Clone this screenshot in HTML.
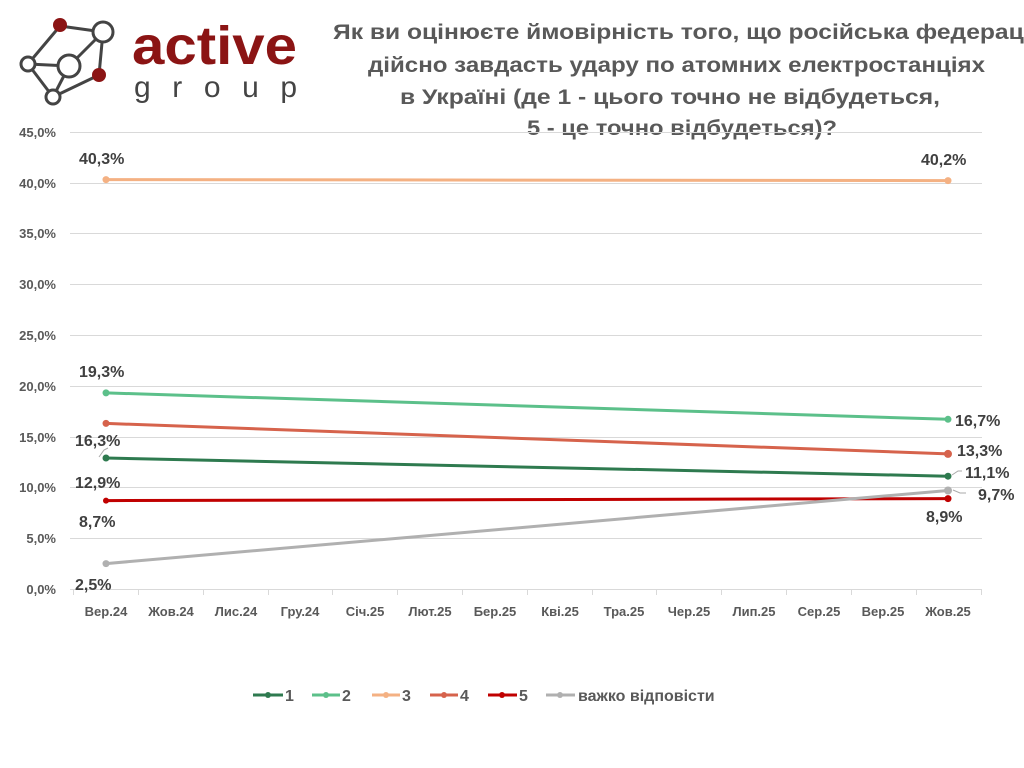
<!DOCTYPE html>
<html><head><meta charset="utf-8"><style>
html,body{margin:0;padding:0;background:#fff;}
svg{display:block;font-family:"Liberation Sans",Arial,sans-serif;}
</style></head><body>
<svg width="1024" height="768" viewBox="0 0 1024 768" xmlns="http://www.w3.org/2000/svg">
<rect width="1024" height="768" fill="#fff"/>
<!-- logo -->
<g stroke="#444" stroke-width="3" fill="#fff">
<line x1="60" y1="26" x2="103" y2="32"/><line x1="60" y1="26" x2="28" y2="64"/>
<line x1="103" y1="32" x2="69" y2="66"/><line x1="103" y1="32" x2="99" y2="75"/>
<line x1="28" y1="64" x2="69" y2="66"/><line x1="28" y1="64" x2="53" y2="97"/>
<line x1="69" y1="66" x2="53" y2="97"/><line x1="99" y1="75" x2="53" y2="97"/>
<circle cx="103" cy="32" r="10"/><circle cx="69" cy="66" r="11"/>
<circle cx="28" cy="64" r="7"/><circle cx="53" cy="97" r="7"/>
</g>
<circle cx="60" cy="25" r="7" fill="#8b1414"/><circle cx="99" cy="75" r="7" fill="#8b1414"/>
<text x="132" y="64" font-size="54" font-weight="bold" fill="#8b1414" textLength="165" lengthAdjust="spacingAndGlyphs">active</text>
<text x="134" y="97" font-size="30" fill="#444" textLength="163" lengthAdjust="spacing">group</text>
<!-- title -->
<g font-size="21" font-weight="bold" fill="#595959">
<text x="333" y="39" textLength="712" lengthAdjust="spacingAndGlyphs">Як ви оцінюєте ймовірність того, що російська федерація</text>
<text x="368" y="72" textLength="617" lengthAdjust="spacingAndGlyphs">дійсно завдасть удару по атомних електростанціях</text>
<text x="400" y="104" textLength="540" lengthAdjust="spacingAndGlyphs">в Україні (де 1 - цього точно не відбудеться,</text>
<text x="527" y="135" textLength="310" lengthAdjust="spacingAndGlyphs">5 - це точно відбудеться)?</text>
</g>
<!-- grid -->
<g stroke="#d9d9d9" stroke-width="1">
<line x1="70" y1="132.5" x2="982" y2="132.5"/><line x1="70" y1="183.5" x2="982" y2="183.5"/>
<line x1="70" y1="233.5" x2="982" y2="233.5"/><line x1="70" y1="284.5" x2="982" y2="284.5"/>
<line x1="70" y1="335.5" x2="982" y2="335.5"/><line x1="70" y1="386.5" x2="982" y2="386.5"/>
<line x1="70" y1="437.5" x2="982" y2="437.5"/><line x1="70" y1="487.5" x2="982" y2="487.5"/>
<line x1="70" y1="538.5" x2="982" y2="538.5"/><line x1="70" y1="589.5" x2="982" y2="589.5"/>
</g>
<g stroke="#d9d9d9">
<line x1="73.5" y1="589" x2="73.5" y2="595"/><line x1="138.5" y1="589" x2="138.5" y2="595"/><line x1="203.5" y1="589" x2="203.5" y2="595"/><line x1="268.5" y1="589" x2="268.5" y2="595"/><line x1="332.5" y1="589" x2="332.5" y2="595"/><line x1="397.5" y1="589" x2="397.5" y2="595"/><line x1="462.5" y1="589" x2="462.5" y2="595"/><line x1="527.5" y1="589" x2="527.5" y2="595"/><line x1="592.5" y1="589" x2="592.5" y2="595"/><line x1="656.5" y1="589" x2="656.5" y2="595"/><line x1="721.5" y1="589" x2="721.5" y2="595"/><line x1="786.5" y1="589" x2="786.5" y2="595"/><line x1="851.5" y1="589" x2="851.5" y2="595"/><line x1="916.5" y1="589" x2="916.5" y2="595"/><line x1="981.5" y1="589" x2="981.5" y2="595"/>
</g>
<g font-size="13" font-weight="bold" fill="#595959" text-anchor="end">
<text x="56" y="137">45,0%</text><text x="56" y="188">40,0%</text><text x="56" y="238">35,0%</text>
<text x="56" y="289">30,0%</text><text x="56" y="340">25,0%</text><text x="56" y="391">20,0%</text>
<text x="56" y="442">15,0%</text><text x="56" y="492">10,0%</text><text x="56" y="543">5,0%</text>
<text x="56" y="594">0,0%</text>
</g>
<g font-size="13" font-weight="bold" fill="#595959" text-anchor="middle">
<text x="106" y="616">Вер.24</text><text x="171" y="616">Жов.24</text><text x="236" y="616">Лис.24</text>
<text x="300" y="616">Гру.24</text><text x="365" y="616">Січ.25</text><text x="430" y="616">Лют.25</text>
<text x="495" y="616">Бер.25</text><text x="560" y="616">Кві.25</text><text x="624" y="616">Тра.25</text>
<text x="689" y="616">Чер.25</text><text x="754" y="616">Лип.25</text><text x="819" y="616">Сер.25</text>
<text x="883" y="616">Вер.25</text><text x="948" y="616">Жов.25</text>
</g>
<!-- series -->
<g stroke-width="3" fill="none">
<line x1="106" y1="179.6" x2="948" y2="180.6" stroke="#f4b183"/>
<line x1="106" y1="392.9" x2="948" y2="419.3" stroke="#5cc08a"/>
<line x1="106" y1="423.4" x2="948" y2="453.9" stroke="#d6634c"/>
<line x1="106" y1="458" x2="948" y2="476.2" stroke="#2e7a4f"/>
<line x1="106" y1="500.6" x2="948" y2="498.6" stroke="#c00000"/>
<line x1="106" y1="563.6" x2="948" y2="490.5" stroke="#b0b0b0"/>
</g>
<g>
<circle cx="106" cy="179.6" r="3.5" fill="#f4b183"/><circle cx="948" cy="180.6" r="3.5" fill="#f4b183"/>
<circle cx="106" cy="392.9" r="3.5" fill="#5cc08a"/><circle cx="948" cy="419.3" r="3.5" fill="#5cc08a"/>
<circle cx="106" cy="423.4" r="3.5" fill="#d6634c"/><circle cx="948" cy="453.9" r="4" fill="#d6634c"/>
<circle cx="106" cy="458" r="3.5" fill="#2e7a4f"/><circle cx="948" cy="476.2" r="3.5" fill="#2e7a4f"/>
<circle cx="106" cy="500.6" r="3" fill="#c00000"/><circle cx="948" cy="498.6" r="3.5" fill="#c00000"/>
<circle cx="106" cy="563.6" r="3.5" fill="#b0b0b0"/><circle cx="948" cy="490.5" r="4" fill="#b0b0b0"/>
</g>
<g stroke="#aaa" stroke-width="1" fill="none">
<polyline points="99,457 104,450 108,448"/>
<polyline points="952,475 958,471 962,471"/>
<polyline points="953,490 960,493 966,493"/>
</g>
<g font-size="16" font-weight="bold" fill="#404040">
<text x="79" y="164">40,3%</text><text x="921" y="165">40,2%</text>
<text x="79" y="377">19,3%</text><text x="955" y="426">16,7%</text>
<text x="75" y="446">16,3%</text><text x="957" y="456">13,3%</text>
<text x="75" y="488">12,9%</text><text x="965" y="478">11,1%</text>
<text x="79" y="527">8,7%</text><text x="978" y="500">9,7%</text>
<text x="75" y="590">2,5%</text><text x="926" y="522">8,9%</text>
</g>
<!-- legend -->
<g stroke-width="3">
<line x1="253" y1="695" x2="283" y2="695" stroke="#2e7a4f"/><circle cx="268" cy="695" r="3" fill="#2e7a4f"/>
<line x1="312" y1="695" x2="340" y2="695" stroke="#5cc08a"/><circle cx="326" cy="695" r="3" fill="#5cc08a"/>
<line x1="372" y1="695" x2="400" y2="695" stroke="#f4b183"/><circle cx="386" cy="695" r="3" fill="#f4b183"/>
<line x1="430" y1="695" x2="458" y2="695" stroke="#d6634c"/><circle cx="444" cy="695" r="3" fill="#d6634c"/>
<line x1="488" y1="695" x2="517" y2="695" stroke="#c00000"/><circle cx="502" cy="695" r="3" fill="#c00000"/>
<line x1="546" y1="695" x2="575" y2="695" stroke="#b0b0b0"/><circle cx="560" cy="695" r="3" fill="#b0b0b0"/>
</g>
<g font-size="16" font-weight="bold" fill="#595959">
<text x="285" y="701">1</text><text x="342" y="701">2</text><text x="402" y="701">3</text>
<text x="460" y="701">4</text><text x="519" y="701">5</text><text x="578" y="701">важко відповісти</text>
</g>
</svg>
</body></html>
